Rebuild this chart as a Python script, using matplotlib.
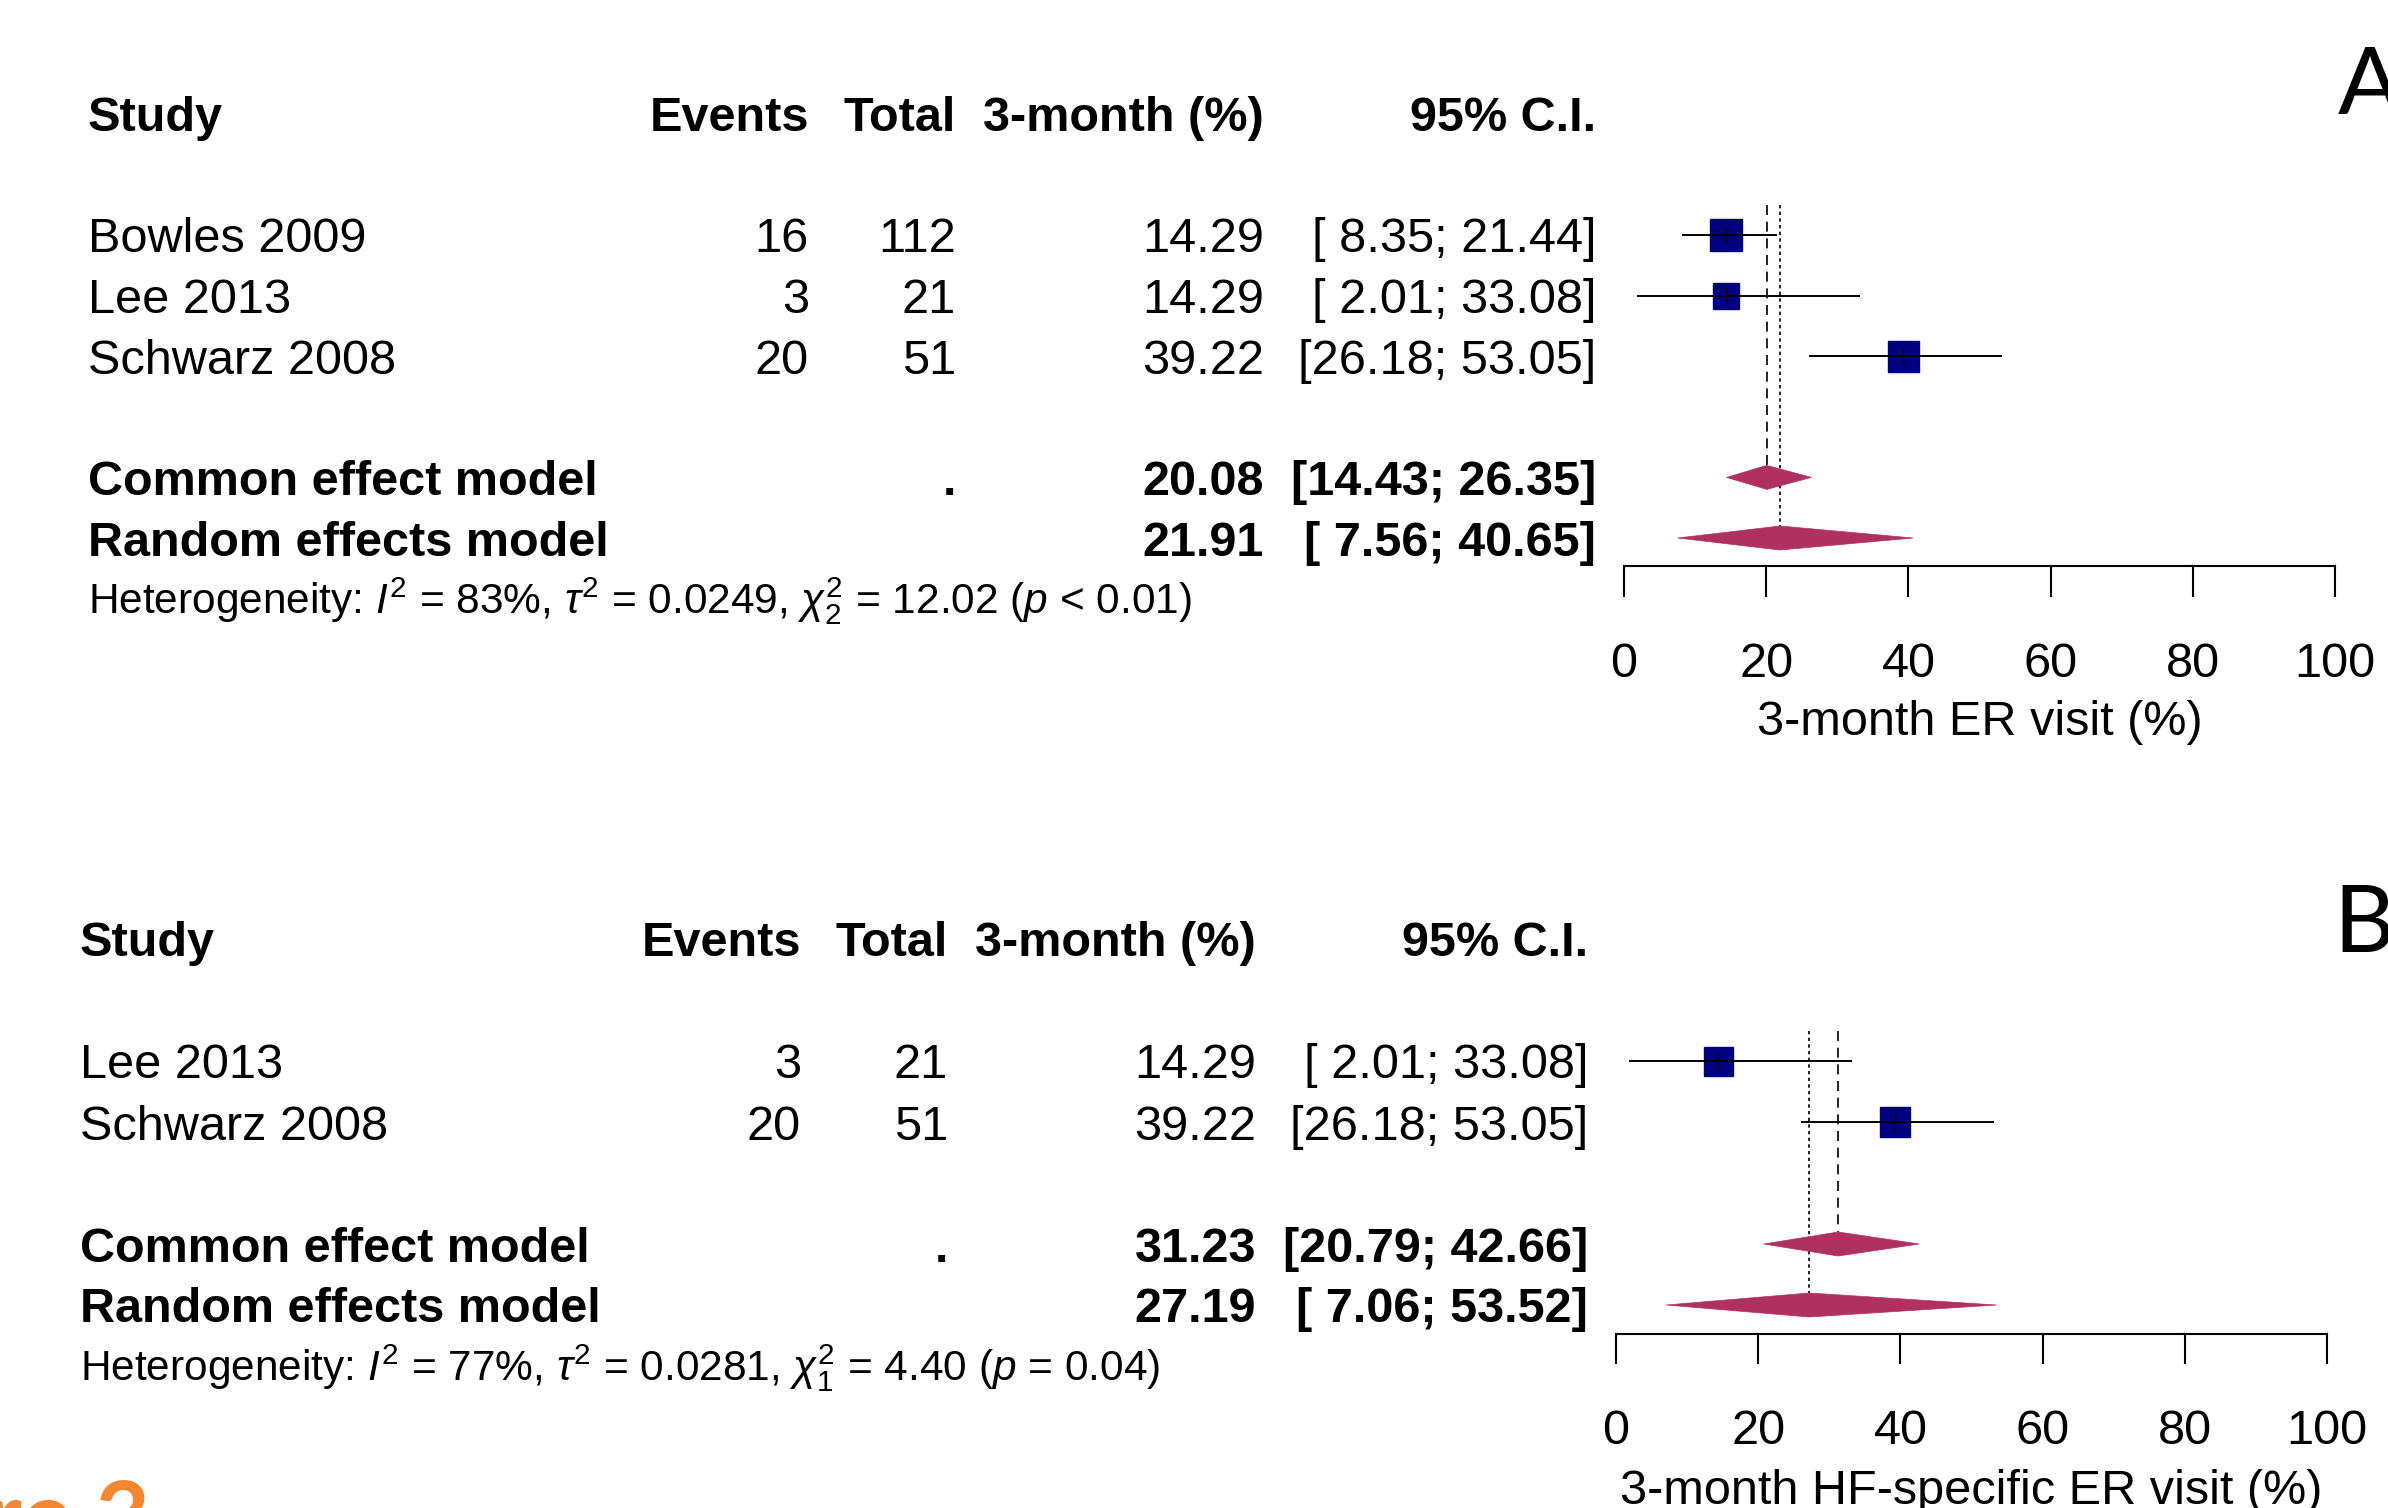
import numpy as np
import matplotlib
matplotlib.use("Agg")
import matplotlib.pyplot as plt
from matplotlib.patches import Polygon

plt.rcParams['font.family'] = ['Liberation Sans', 'DejaVu Sans']
plt.rcParams['mathtext.fontset'] = 'custom'
plt.rcParams['mathtext.rm'] = 'Liberation Sans'
plt.rcParams['mathtext.it'] = 'Liberation Sans:italic'
plt.rcParams['mathtext.bf'] = 'Liberation Sans:bold'

# ---- panel A: 3-month ER visit ----
studies_a = ["Bowles 2009", "Lee 2013", "Schwarz 2008"]
events_a = [16, 3, 20]
total_a = [112, 21, 51]
est_a = [14.29, 14.29, 39.22]
lo_a = [8.35, 2.01, 26.18]
hi_a = [21.44, 33.08, 53.05]
box_a = [32, 26, 31]            # square side (px)
common_a = [20.08, 14.43, 26.35]
random_a = [21.91, 7.56, 40.65]
het_a = r"Heterogeneity: $I^2$ = 83%, $\tau^2$ = 0.0249, $\chi^2_2$ = 12.02 ($p$ < 0.01)"
xlabel_a = "3-month ER visit (%)"

# ---- panel B: 3-month HF-specific ER visit ----
studies_b = ["Lee 2013", "Schwarz 2008"]
events_b = [3, 20]
total_b = [21, 51]
est_b = [14.29, 39.22]
lo_b = [2.01, 26.18]
hi_b = [33.08, 53.05]
box_b = [29, 30]
common_b = [31.23, 20.79, 42.66]
random_b = [27.19, 7.06, 53.52]
het_b = r"Heterogeneity: $I^2$ = 77%, $\tau^2$ = 0.0281, $\chi^2_1$ = 4.40 ($p$ = 0.04)"
xlabel_b = "3-month HF-specific ER visit (%)"

xticks = [0, 20, 40, 60, 80, 100]
headers = ["Study", "Events", "Total", "3-month (%)", "95% C.I."]

W, H = 2388, 1508
PPU = 7.11                      # px per percentage point
COLS = [-1536, -815, -668, -360, -28]   # column anchors, px relative to 0 %
FS, FS_HET = 35, 30.5
SQ_COL, DIA_COL = "#000080", "#B03060"


def fmt_ci(lo, hi):
    a = f"{lo:.2f}" if lo >= 10 else f" {lo:.2f}"
    return f"[{a}; {hi:.2f}]"


def panel(fig, x0, y1, row, studies, events, total, est, lo, hi, box,
          common, random, het, xlabel):
    ax = fig.add_axes([0, 0, 1, 1])
    ax.set_xlim(-x0 / PPU, (W - x0) / PPU)
    ax.set_ylim(1 + (H - y1) / row, 1 - y1 / row)
    ax.axis("off")
    cx = [c / PPU for c in COLS]
    bl = 17.5 / row              # centre -> baseline offset in rows

    def put(x, r, s, ha, bold=False, fs=FS):
        ax.text(x, r + bl, s, ha=ha, va="baseline", fontsize=fs,
                fontweight="bold" if bold else "normal")

    for i, h in enumerate(headers):
        put(cx[i], -1, h, "left" if i == 0 else "right", bold=True)

    n = len(studies)
    rows = np.arange(1, n + 1)
    for r, s, e, t, m, l, u, b in zip(rows, studies, events, total, est, lo, hi, box):
        put(cx[0], r, s, "left")
        put(cx[1], r, str(e), "right")
        put(cx[2], r, str(t), "right")
        put(cx[3], r, f"{m:.2f}", "right")
        put(cx[4], r, fmt_ci(l, u), "right")
        ax.plot([m], [r], marker="s", ms=b * 0.72, color=SQ_COL, mec=SQ_COL, zorder=2)
        ax.plot([l, u], [r, r], color="black", lw=1.4, zorder=3)
        ax.plot([m, m], [r - 0.13, r + 0.13], color="black", lw=1.0, zorder=3)

    rc, rr = n + 2, n + 3
    hd = 12 / row
    for r, (m, l, u), lab in [(rc, common, "Common effect model"),
                              (rr, random, "Random effects model")]:
        put(cx[0], r, lab, "left", bold=True)
        put(cx[3], r, f"{m:.2f}", "right", bold=True)
        put(cx[4], r, fmt_ci(l, u), "right", bold=True)
        ax.add_patch(Polygon([[l, r], [m, r - hd], [u, r], [m, r + hd]],
                             closed=True, facecolor=DIA_COL, edgecolor=DIA_COL,
                             lw=0.5, zorder=2))
    put(cx[2], rc, ".", "right", bold=True)

    # reference lines
    ax.plot([common[0]] * 2, [0.5, rc - hd], color="black", lw=1.2,
            ls=(0, (6, 4)), zorder=1)
    ax.plot([random[0]] * 2, [0.5, rr - hd], color="black", lw=1.2,
            ls=(0, (2, 2)), zorder=1)

    ax.text(cx[0], rr + 1 + 14.5 / row, het, ha="left", va="baseline", fontsize=FS_HET)

    # x axis
    ya = rr + 0.47
    ax.plot([xticks[0], xticks[-1]], [ya, ya], color="black", lw=1.5)
    for t in xticks:
        ax.plot([t, t], [ya, rr + 0.95], color="black", lw=1.5)
        ax.text(t, rr + 2.0 + bl, str(t), ha="center", va="baseline", fontsize=FS)
    ax.text(50, rr + 2.97 + bl, xlabel, ha="center", va="baseline", fontsize=FS)
    return ax


fig = plt.figure(figsize=(W / 100, H / 100), dpi=100)
panel(fig, 1624, 235, 60.6, studies_a, events_a, total_a, est_a, lo_a, hi_a, box_a,
      common_a, random_a, het_a, xlabel_a)
panel(fig, 1616, 1061, 61.0, studies_b, events_b, total_b, est_b, lo_b, hi_b, box_b,
      common_b, random_b, het_b, xlabel_b)

fig.text(2338 / W, 1 - 114 / H, "A", ha="left", va="baseline", fontsize=68,
         family=["Lato", "DejaVu Sans"])
fig.text(2333 / W, 1 - 952 / H, "B", ha="left", va="baseline", fontsize=68,
         family=["Lato", "DejaVu Sans"])
fig.text(150 / W, 1 - 1549 / H, "Figure 3", ha="right", va="baseline", fontsize=68,
         fontweight="bold", color="#F3872F", family=["Lato", "DejaVu Sans"])

fig.savefig("out.png", dpi=100)
